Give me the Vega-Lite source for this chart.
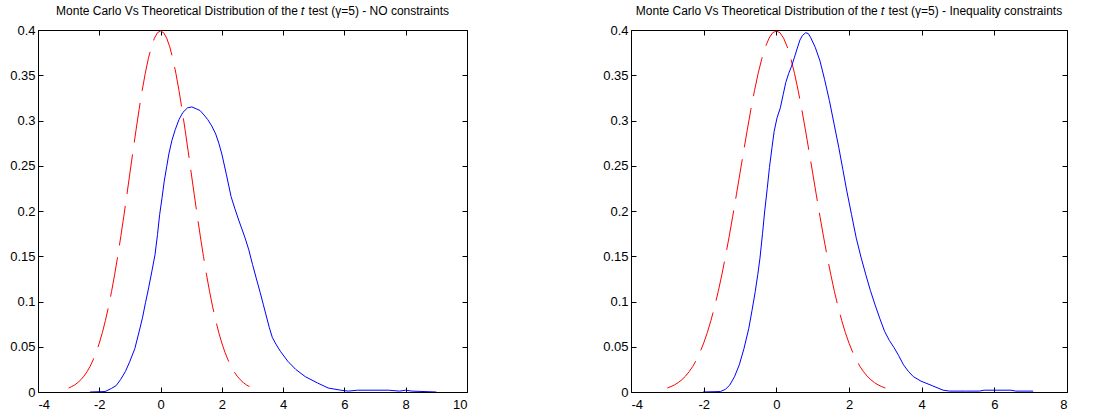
{
  "$schema": "https://vega.github.io/schema/vega-lite/v6.json",
  "background": "white",
  "padding": {"left": 9, "top": 5, "right": 0, "bottom": 0},
  "spacing": 134,
  "datasets": {
    "normal": [
      {"x": -3.0, "y": 0.0044}, {"x": -2.9, "y": 0.0060}, {"x": -2.8, "y": 0.0079}, {"x": -2.7, "y": 0.0104}, {"x": -2.6, "y": 0.0136},
      {"x": -2.5, "y": 0.0175}, {"x": -2.4, "y": 0.0224}, {"x": -2.3, "y": 0.0283}, {"x": -2.2, "y": 0.0355}, {"x": -2.1, "y": 0.0440},
      {"x": -2.0, "y": 0.0540}, {"x": -1.9, "y": 0.0656}, {"x": -1.8, "y": 0.0790}, {"x": -1.7, "y": 0.0940}, {"x": -1.6, "y": 0.1109},
      {"x": -1.5, "y": 0.1295}, {"x": -1.4, "y": 0.1497}, {"x": -1.3, "y": 0.1714}, {"x": -1.2, "y": 0.1942}, {"x": -1.1, "y": 0.2179},
      {"x": -1.0, "y": 0.2420}, {"x": -0.9, "y": 0.2661}, {"x": -0.8, "y": 0.2897}, {"x": -0.7, "y": 0.3123}, {"x": -0.6, "y": 0.3332},
      {"x": -0.5, "y": 0.3521}, {"x": -0.4, "y": 0.3683}, {"x": -0.3, "y": 0.3814}, {"x": -0.2, "y": 0.3910}, {"x": -0.1, "y": 0.3970},
      {"x": 0.0, "y": 0.3989},
      {"x": 0.1, "y": 0.3970}, {"x": 0.2, "y": 0.3910}, {"x": 0.3, "y": 0.3814}, {"x": 0.4, "y": 0.3683}, {"x": 0.5, "y": 0.3521},
      {"x": 0.6, "y": 0.3332}, {"x": 0.7, "y": 0.3123}, {"x": 0.8, "y": 0.2897}, {"x": 0.9, "y": 0.2661}, {"x": 1.0, "y": 0.2420},
      {"x": 1.1, "y": 0.2179}, {"x": 1.2, "y": 0.1942}, {"x": 1.3, "y": 0.1714}, {"x": 1.4, "y": 0.1497}, {"x": 1.5, "y": 0.1295},
      {"x": 1.6, "y": 0.1109}, {"x": 1.7, "y": 0.0940}, {"x": 1.8, "y": 0.0790}, {"x": 1.9, "y": 0.0656}, {"x": 2.0, "y": 0.0540},
      {"x": 2.1, "y": 0.0440}, {"x": 2.2, "y": 0.0355}, {"x": 2.3, "y": 0.0283}, {"x": 2.4, "y": 0.0224}, {"x": 2.5, "y": 0.0175},
      {"x": 2.6, "y": 0.0136}, {"x": 2.7, "y": 0.0104}, {"x": 2.8, "y": 0.0079}, {"x": 2.9, "y": 0.0060}, {"x": 3.0, "y": 0.0044}
    ],
    "mcNo": [
      {"x": -2.3, "y": 0.0}, {"x": -1.81, "y": 0.0005}, {"x": -1.6, "y": 0.004}, {"x": -1.45, "y": 0.007}, {"x": -1.3, "y": 0.014},
      {"x": -1.15, "y": 0.0225}, {"x": -1.0, "y": 0.034}, {"x": -0.84, "y": 0.048}, {"x": -0.72, "y": 0.064}, {"x": -0.59, "y": 0.082},
      {"x": -0.49, "y": 0.099}, {"x": -0.39, "y": 0.115}, {"x": -0.28, "y": 0.134}, {"x": -0.18, "y": 0.152}, {"x": -0.1, "y": 0.174},
      {"x": -0.03, "y": 0.196}, {"x": 0.05, "y": 0.215}, {"x": 0.12, "y": 0.233}, {"x": 0.2, "y": 0.249}, {"x": 0.27, "y": 0.263},
      {"x": 0.37, "y": 0.278}, {"x": 0.48, "y": 0.290}, {"x": 0.6, "y": 0.301}, {"x": 0.73, "y": 0.309}, {"x": 0.88, "y": 0.314},
      {"x": 1.02, "y": 0.315}, {"x": 1.16, "y": 0.313}, {"x": 1.29, "y": 0.311}, {"x": 1.42, "y": 0.306}, {"x": 1.54, "y": 0.301},
      {"x": 1.67, "y": 0.294}, {"x": 1.8, "y": 0.285}, {"x": 1.9, "y": 0.275}, {"x": 2.0, "y": 0.263}, {"x": 2.15, "y": 0.240},
      {"x": 2.3, "y": 0.216}, {"x": 2.43, "y": 0.202}, {"x": 2.56, "y": 0.189}, {"x": 2.76, "y": 0.170}, {"x": 2.88, "y": 0.157},
      {"x": 3.0, "y": 0.141}, {"x": 3.12, "y": 0.126}, {"x": 3.25, "y": 0.110}, {"x": 3.35, "y": 0.097}, {"x": 3.45, "y": 0.084},
      {"x": 3.55, "y": 0.071}, {"x": 3.65, "y": 0.060}, {"x": 3.78, "y": 0.052}, {"x": 3.91, "y": 0.045}, {"x": 4.15, "y": 0.034},
      {"x": 4.41, "y": 0.025}, {"x": 4.72, "y": 0.017}, {"x": 5.12, "y": 0.010}, {"x": 5.47, "y": 0.0044}, {"x": 5.88, "y": 0.002},
      {"x": 6.13, "y": 0.001}, {"x": 6.43, "y": 0.002}, {"x": 7.0, "y": 0.002}, {"x": 7.44, "y": 0.002}, {"x": 7.8, "y": 0.001},
      {"x": 8.0, "y": 0.002}, {"x": 8.2, "y": 0.001}, {"x": 9.0, "y": 0.0}
    ],
    "mcIneq": [
      {"x": -2.02, "y": 0.0}, {"x": -1.54, "y": 0.0005}, {"x": -1.4, "y": 0.003}, {"x": -1.28, "y": 0.0078}, {"x": -1.15, "y": 0.017},
      {"x": -1.02, "y": 0.030}, {"x": -0.89, "y": 0.048}, {"x": -0.76, "y": 0.070}, {"x": -0.67, "y": 0.090}, {"x": -0.58, "y": 0.111},
      {"x": -0.51, "y": 0.130}, {"x": -0.45, "y": 0.148}, {"x": -0.38, "y": 0.175}, {"x": -0.32, "y": 0.200}, {"x": -0.25, "y": 0.225},
      {"x": -0.19, "y": 0.248}, {"x": -0.12, "y": 0.270}, {"x": -0.06, "y": 0.288}, {"x": 0.02, "y": 0.303}, {"x": 0.11, "y": 0.314},
      {"x": 0.19, "y": 0.329}, {"x": 0.26, "y": 0.342}, {"x": 0.34, "y": 0.352}, {"x": 0.42, "y": 0.360}, {"x": 0.5, "y": 0.370},
      {"x": 0.57, "y": 0.379}, {"x": 0.65, "y": 0.389}, {"x": 0.72, "y": 0.394}, {"x": 0.81, "y": 0.397}, {"x": 0.88, "y": 0.396},
      {"x": 0.94, "y": 0.392}, {"x": 1.07, "y": 0.381}, {"x": 1.2, "y": 0.366}, {"x": 1.33, "y": 0.345}, {"x": 1.46, "y": 0.322},
      {"x": 1.59, "y": 0.296}, {"x": 1.72, "y": 0.270}, {"x": 1.83, "y": 0.246}, {"x": 1.94, "y": 0.222}, {"x": 2.07, "y": 0.196},
      {"x": 2.2, "y": 0.170}, {"x": 2.33, "y": 0.149}, {"x": 2.46, "y": 0.130}, {"x": 2.59, "y": 0.112}, {"x": 2.72, "y": 0.096},
      {"x": 2.85, "y": 0.081}, {"x": 2.98, "y": 0.067}, {"x": 3.11, "y": 0.057}, {"x": 3.24, "y": 0.049}, {"x": 3.37, "y": 0.040},
      {"x": 3.5, "y": 0.030}, {"x": 3.63, "y": 0.023}, {"x": 3.77, "y": 0.017}, {"x": 3.98, "y": 0.012}, {"x": 4.29, "y": 0.007},
      {"x": 4.59, "y": 0.002}, {"x": 4.77, "y": 0.001}, {"x": 5.2, "y": 0.001}, {"x": 5.59, "y": 0.001}, {"x": 5.72, "y": 0.002},
      {"x": 6.1, "y": 0.002}, {"x": 6.46, "y": 0.002}, {"x": 6.59, "y": 0.001}, {"x": 7.07, "y": 0.001}
    ]
  },
  "hconcat": [
    {
      "width": 429,
      "height": 362,
      "title": "Monte Carlo Vs Theoretical Distribution of the 𝑡 test (γ=5) - NO constraints",
      "layer": [
        {
          "data": {"name": "normal"},
          "transform": [{"filter": "datum.x <= 2.9"}],
          "mark": {"type": "line", "color": "#ff0000", "strokeWidth": 1, "strokeDash": [40, 12], "clip": true},
          "encoding": {
            "x": {"field": "x", "type": "quantitative", "scale": {"domain": [-4, 10], "nice": false, "zero": false},
                  "axis": {"orient": "bottom", "title": null, "labelPadding": 11, "values": [-4, -2, 0, 2, 4, 6, 8, 10], "labelExpr": "'' + datum.value"}},
            "y": {"field": "y", "type": "quantitative", "scale": {"domain": [0, 0.4], "nice": false, "zero": false},
                  "axis": {"orient": "left", "title": null, "labelPadding": 8, "values": [0, 0.05, 0.1, 0.15, 0.2, 0.25, 0.3, 0.35, 0.4], "labelExpr": "'' + datum.value"}}
          }
        },
        {
          "data": {"name": "mcNo"},
          "mark": {"type": "line", "color": "#0000ff", "strokeWidth": 1, "clip": true},
          "encoding": {
            "x": {"field": "x", "type": "quantitative",
                  "axis": {"orient": "top", "title": null, "labels": false, "values": [-4, -2, 0, 2, 4, 6, 8, 10]}},
            "y": {"field": "y", "type": "quantitative",
                  "axis": {"orient": "right", "title": null, "labels": false, "values": [0, 0.05, 0.1, 0.15, 0.2, 0.25, 0.3, 0.35, 0.4]}}
          }
        }
      ],
      "resolve": {"axis": {"x": "independent", "y": "independent"}}
    },
    {
      "width": 436,
      "height": 362,
      "title": "Monte Carlo Vs Theoretical Distribution of the 𝑡 test (γ=5) - Inequality constraints",
      "layer": [
        {
          "data": {"name": "normal"},
          "mark": {"type": "line", "color": "#ff0000", "strokeWidth": 1, "strokeDash": [40, 12], "clip": true},
          "encoding": {
            "x": {"field": "x", "type": "quantitative", "scale": {"domain": [-4, 8], "nice": false, "zero": false},
                  "axis": {"orient": "bottom", "title": null, "labelPadding": 11, "values": [-4, -2, 0, 2, 4, 6, 8], "labelExpr": "'' + datum.value"}},
            "y": {"field": "y", "type": "quantitative", "scale": {"domain": [0, 0.4], "nice": false, "zero": false},
                  "axis": {"orient": "left", "title": null, "labelPadding": 8, "values": [0, 0.05, 0.1, 0.15, 0.2, 0.25, 0.3, 0.35, 0.4], "labelExpr": "'' + datum.value"}}
          }
        },
        {
          "data": {"name": "mcIneq"},
          "mark": {"type": "line", "color": "#0000ff", "strokeWidth": 1, "clip": true},
          "encoding": {
            "x": {"field": "x", "type": "quantitative",
                  "axis": {"orient": "top", "title": null, "labels": false, "values": [-4, -2, 0, 2, 4, 6, 8]}},
            "y": {"field": "y", "type": "quantitative",
                  "axis": {"orient": "right", "title": null, "labels": false, "values": [0, 0.05, 0.1, 0.15, 0.2, 0.25, 0.3, 0.35, 0.4]}}
          }
        }
      ],
      "resolve": {"axis": {"x": "independent", "y": "independent"}}
    }
  ],
  "config": {
    "view": {"stroke": null},
    "axis": {"grid": false, "domainColor": "#000000", "domainWidth": 1, "tickColor": "#000000", "tickSize": -5, "tickWidth": 1,
             "labelColor": "#000000", "labelFont": "Liberation Sans", "labelFontSize": 13},
    "title": {"font": "Liberation Sans", "fontSize": 12, "fontWeight": "normal", "color": "#000000", "offset": 6, "anchor": "middle"}
  }
}
